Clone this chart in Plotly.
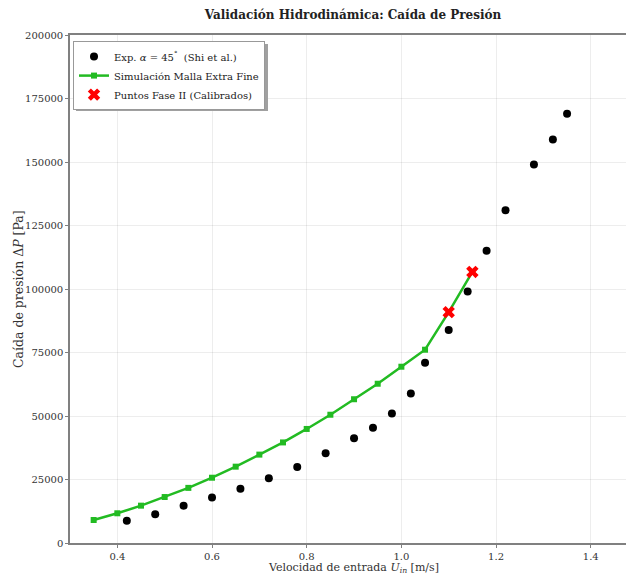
import plotly.graph_objects as go

# Experimental data (Shi et al., alpha = 45 deg)
exp_u = [0.42, 0.48, 0.54, 0.60, 0.66, 0.72, 0.78, 0.84, 0.90, 0.94, 0.98,
         1.02, 1.05, 1.10, 1.14, 1.18, 1.22, 1.28, 1.32, 1.35]
exp_dp = [8800, 11300, 14700, 17900, 21400, 25500, 29900, 35300, 41200, 45400,
          51000, 58900, 71000, 83900, 99000, 115100, 131000, 149000, 158900, 169000]

# Simulation, extra fine mesh
sim_u = [0.35, 0.40, 0.45, 0.50, 0.55, 0.60, 0.65, 0.70, 0.75, 0.80, 0.85,
         0.90, 0.95, 1.00, 1.05, 1.10, 1.15]
sim_dp = [9050, 11700, 14700, 18100, 21700, 25700, 30050, 34800, 39600, 44900,
          50500, 56600, 62700, 69400, 76100, 90900, 106700]

# Phase II calibrated points
fase_u = [1.10, 1.15]
fase_dp = [90900, 106700]

x_ticks = [0.4, 0.6, 0.8, 1.0, 1.2, 1.4]
x_tick_labels = ["0.4", "0.6", "0.8", "1.0", "1.2", "1.4"]
y_ticks = [0, 25000, 50000, 75000, 100000, 125000, 150000, 175000, 200000]
y_tick_labels = [str(v) for v in y_ticks]

FONT = "DejaVu Serif"
GREEN = "#22bb22"

fig = go.Figure()
fig.add_trace(go.Scatter(
    x=exp_u, y=exp_dp, mode="markers",
    marker=dict(color="black", size=8, symbol="circle"),
    name="Exp. <i>α</i> = 45<sup>°</sup>  (Shi et al.)"))
fig.add_trace(go.Scatter(
    x=sim_u, y=sim_dp, mode="lines+markers",
    line=dict(color=GREEN, width=2.5),
    marker=dict(color=GREEN, size=6, symbol="square"),
    name="Simulación Malla Extra Fine"))
fig.add_trace(go.Scatter(
    x=fase_u, y=fase_dp, mode="markers",
    marker=dict(color="red", size=11, symbol="x", line=dict(width=0)),
    name="Puntos Fase II (Calibrados)"))

axis_common = dict(
    showgrid=True, gridcolor="rgba(0,0,0,0.07)", gridwidth=1,
    showline=True, linecolor="#808080", linewidth=1.5,
    ticks="outside", ticklen=3, tickcolor="#808080",
    tickfont=dict(family=FONT, size=10, color="#333333"),
    zeroline=False,
)

fig.update_layout(
    width=626, height=576,
    margin=dict(l=70, r=0, t=35, b=33),
    paper_bgcolor="white", plot_bgcolor="white",
    font=dict(family=FONT, color="#222222"),
    title=dict(text="<b>Validación Hidrodinámica: Caída de Presión</b>",
               x=0.509, xref="paper", xanchor="center",
               y=1 - 15 / 576, yanchor="middle", yref="container",
               font=dict(family=FONT, size=12, color="#222222")),
    xaxis=dict(range=[0.3, 1.4745], tickvals=x_ticks, ticktext=x_tick_labels,
               mirror=True, **axis_common),
    yaxis=dict(range=[0, 200000], tickvals=y_ticks, ticktext=y_tick_labels,
               mirror=False, **axis_common),
    legend=dict(x=0.0054, y=0.988, xanchor="left", yanchor="top",
                bgcolor="white", bordercolor="#999999", borderwidth=1,
                font=dict(family=FONT, size=10, color="#222222"),
                itemwidth=30, tracegroupgap=0),
    showlegend=True,
    annotations=[
        dict(text="Velocidad de entrada <i>U</i><sub><i>in</i></sub> [m/s]",
             xref="paper", yref="paper", x=0.509, y=-25 / 508,
             xanchor="center", yanchor="middle", showarrow=False,
             font=dict(family=FONT, size=11, color="#333333")),
        dict(text="Caída de presión Δ<i>P</i> [Pa]",
             xref="paper", yref="paper", x=(18 - 70) / 556, y=0.5,
             xanchor="center", yanchor="middle", showarrow=False,
             textangle=-90,
             font=dict(family=FONT, size=12.5, color="#333333")),
    ],
    shapes=[dict(type="rect", xref="paper", yref="paper",
                 x0=(76 - 70) / 556, x1=(268 - 70) / 556,
                 y0=(543 - 111) / 508, y1=(543 - 44) / 508,
                 fillcolor="#a0a0a0", line=dict(width=0), layer="above")],
)

fig.write_html("out.html")
